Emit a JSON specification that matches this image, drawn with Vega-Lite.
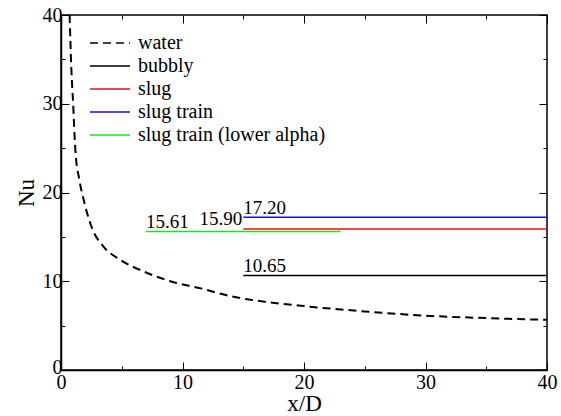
{
  "$schema": "https://vega.github.io/schema/vega-lite/v6.json",
  "width": 486,
  "height": 355,
  "autosize": "none",
  "padding": {"left": 61, "top": 15, "right": 14, "bottom": 46},
  "config": {
    "font": "Liberation Serif",
    "view": {"stroke": "black", "strokeWidth": 1.5},
    "axis": {
      "grid": false,
      "domainColor": "black",
      "domainWidth": 1.5,
      "tickColor": "black",
      "tickWidth": 1,
      "labelFont": "Liberation Serif",
      "labelFontSize": 20,
      "labelColor": "black",
      "titleFont": "Liberation Serif",
      "titleFontSize": 23,
      "titleFontWeight": "normal",
      "titleColor": "black",
      "labelFlush": false,
      "labelOverlap": false
    },
    "legend": {
      "labelFont": "Liberation Serif",
      "labelFontSize": 20,
      "labelColor": "black",
      "labelLimit": 0
    }
  },
  "datasets": {
    "water": [
      {"series": "water", "xd": 0.71, "nu": 40},
      {"series": "water", "xd": 0.85, "nu": 34},
      {"series": "water", "xd": 1.0, "nu": 30},
      {"series": "water", "xd": 1.18, "nu": 24.8},
      {"series": "water", "xd": 1.5, "nu": 21.5},
      {"series": "water", "xd": 1.86, "nu": 19.2},
      {"series": "water", "xd": 2.55, "nu": 16.0},
      {"series": "water", "xd": 3.5, "nu": 13.9},
      {"series": "water", "xd": 4.9, "nu": 12.4},
      {"series": "water", "xd": 6.8, "nu": 11.1},
      {"series": "water", "xd": 9.0, "nu": 10.0},
      {"series": "water", "xd": 11.5, "nu": 9.2},
      {"series": "water", "xd": 14, "nu": 8.3},
      {"series": "water", "xd": 17, "nu": 7.65},
      {"series": "water", "xd": 20, "nu": 7.2},
      {"series": "water", "xd": 25, "nu": 6.6},
      {"series": "water", "xd": 30, "nu": 6.12},
      {"series": "water", "xd": 35, "nu": 5.85},
      {"series": "water", "xd": 40, "nu": 5.65}
    ],
    "segments": [
      {"series": "bubbly", "xs": 15, "xe": 40, "nu": 10.65},
      {"series": "slug", "xs": 15, "xe": 40, "nu": 15.9},
      {"series": "slug train", "xs": 15, "xe": 40, "nu": 17.2},
      {"series": "slug train (lower alpha)", "xs": 7, "xe": 23, "nu": 15.61}
    ],
    "labels": [
      {"text": "10.65", "xl": 15, "nu": 10.65, "anchor": "left"},
      {"text": "15.90", "xl": 15, "nu": 15.9, "anchor": "right"},
      {"text": "17.20", "xl": 15, "nu": 17.2, "anchor": "left"},
      {"text": "15.61", "xl": 7, "nu": 15.61, "anchor": "left"}
    ]
  },
  "layer": [
    {
      "data": {"name": "segments"},
      "mark": {"type": "rule", "strokeWidth": 1.5},
      "encoding": {
        "x": {
          "field": "xs", "type": "quantitative",
          "scale": {"domain": [0, 40], "nice": false, "zero": false},
          "axis": {
            "orient": "bottom", "title": "x/D", "values": [0, 5, 10, 15, 20, 25, 30, 35, 40],
            "labelExpr": "datum.value % 10 === 0 ? datum.label : ''",
            "tickSize": {"condition": {"test": "datum.value % 10 === 0", "value": -8}, "value": -4},
            "labelPadding": 10, "titlePadding": -4
          }
        },
        "x2": {"field": "xe"},
        "y": {
          "field": "nu", "type": "quantitative",
          "scale": {"domain": [0, 40], "nice": false},
          "axis": {
            "orient": "left", "title": "Nu", "values": [0, 5, 10, 15, 20, 25, 30, 35, 40],
            "labelExpr": "datum.value % 10 === 0 ? datum.label : ''",
            "tickSize": {"condition": {"test": "datum.value % 10 === 0", "value": -8}, "value": -4},
            "labelOffset": {"condition": {"test": "datum.value === 0", "value": -3}, "value": 0},
            "labelPadding": 7, "titlePadding": 4
          }
        },
        "color": {
          "field": "series", "type": "nominal",
          "scale": {
            "domain": ["water", "bubbly", "slug", "slug train", "slug train (lower alpha)"],
            "range": ["black", "black", "#ee1111", "#1111dd", "#22dd22"]
          },
          "legend": {
            "orient": "none", "legendX": 38, "legendY": 17, "title": null,
            "symbolType": "M-2,0H2", "symbolSize": 400, "symbolStrokeWidth": 1.5,
            "rowPadding": 2, "labelOffset": 17
          }
        },
        "strokeDash": {
          "field": "series", "type": "nominal",
          "scale": {
            "domain": ["water", "bubbly", "slug", "slug train", "slug train (lower alpha)"],
            "range": [[8, 5], [1, 0], [1, 0], [1, 0], [1, 0]]
          },
          "legend": {
            "orient": "none", "legendX": 38, "legendY": 17, "title": null,
            "symbolType": "M-2,0H2", "symbolSize": 400, "symbolStrokeWidth": 1.5,
            "rowPadding": 2, "labelOffset": 17
          }
        }
      }
    },
    {
      "data": {"name": "water"},
      "mark": {"type": "line", "strokeWidth": 2, "interpolate": "monotone"},
      "encoding": {
        "x": {
          "field": "xd", "type": "quantitative",
          "axis": {
            "orient": "top", "title": null, "labels": false, "domain": false,
            "values": [0, 5, 10, 15, 20, 25, 30, 35, 40],
            "tickSize": {"condition": {"test": "datum.value % 10 === 0", "value": -8}, "value": -4}
          }
        },
        "y": {
          "field": "nu", "type": "quantitative",
          "axis": {
            "orient": "right", "title": null, "labels": false, "domain": false,
            "values": [0, 5, 10, 15, 20, 25, 30, 35, 40],
            "tickSize": {"condition": {"test": "datum.value % 10 === 0", "value": -8}, "value": -4}
          }
        },
        "color": {"field": "series", "type": "nominal"},
        "strokeDash": {"field": "series", "type": "nominal"}
      }
    },
    {
      "data": {"name": "labels"},
      "transform": [{"filter": "datum.anchor === 'left'"}],
      "mark": {"type": "text", "align": "left", "baseline": "alphabetic", "dy": -3, "fontSize": 19, "font": "Liberation Serif", "color": "black"},
      "encoding": {
        "x": {"field": "xl", "type": "quantitative", "axis": null},
        "y": {"field": "nu", "type": "quantitative", "axis": null},
        "text": {"field": "text"}
      }
    },
    {
      "data": {"name": "labels"},
      "transform": [{"filter": "datum.anchor === 'right'"}],
      "mark": {"type": "text", "align": "right", "baseline": "alphabetic", "dy": -4, "dx": -1, "fontSize": 19, "font": "Liberation Serif", "color": "black"},
      "encoding": {
        "x": {"field": "xl", "type": "quantitative", "axis": null},
        "y": {"field": "nu", "type": "quantitative", "axis": null},
        "text": {"field": "text"}
      }
    }
  ],
  "resolve": {"axis": {"x": "independent", "y": "independent"}}
}
